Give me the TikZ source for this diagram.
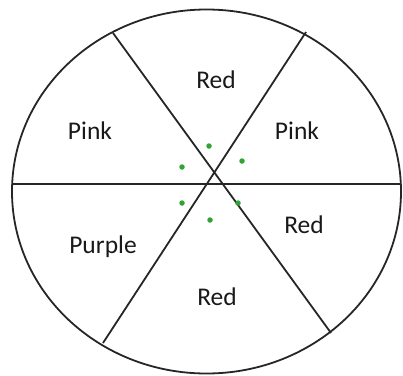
\documentclass[tikz,border=0pt]{standalone}
\usepackage{fontspec}
\setmainfont{Carlito}
\usetikzlibrary{positioning, calc}

\begin{document}
\begin{tikzpicture}[
  x=1pt, y=-1pt,
  font=\fontsize{25.5}{30}\selectfont,
  rim/.style={line width=1.8pt, black!85},
  spoke/.style={line width=1.8pt, black!85},
  colour/.style={inner sep=0pt, text=black!90},
  dot/.style={circle, fill=green!55!black!80, inner sep=0pt, minimum size=5.5pt},
]
\useasboundingbox (0,0) rectangle (403,375);
% ---- the wheel ----
\draw[rim] (206.5,191.5) ellipse [x radius=194.5, y radius=182];
\coordinate (hub) at (213,184);
\coordinate (w)  at (12,184);
\coordinate (e)  at (401,184);
\coordinate (nw) at (113,33);
\coordinate (ne) at (306,32);
\coordinate (sw) at (103,343);
\coordinate (se) at (331,333);
% ---- spokes ----
\draw[spoke] (w) -- (e);
\draw[spoke] (nw) -- (se);
\draw[spoke] (ne) -- (sw);
% ---- sector labels ----
\node[colour] (top)    at (216,80)  {Red};
\node[colour] (lpink)  at (90,131)  {Pink};
\node[colour] (rpink)  at (297,131) {Pink};
\node[colour] (rred)   at (304,225) {Red};
\node[colour] (purple) at (103,247) {Purple};
\node[colour] (bottom) at (217,297) {Red};
% ---- green dots round the hub ----
\node[dot] (d1) at (209,146) {};
\node[dot] (d2) at (242,161) {};
\node[dot] (d3) at (182,167) {};
\node[dot] (d4) at (182,203) {};
\node[dot] (d5) at (238,203) {};
\node[dot] (d6) at (210,220) {};
\end{tikzpicture}
\end{document}
